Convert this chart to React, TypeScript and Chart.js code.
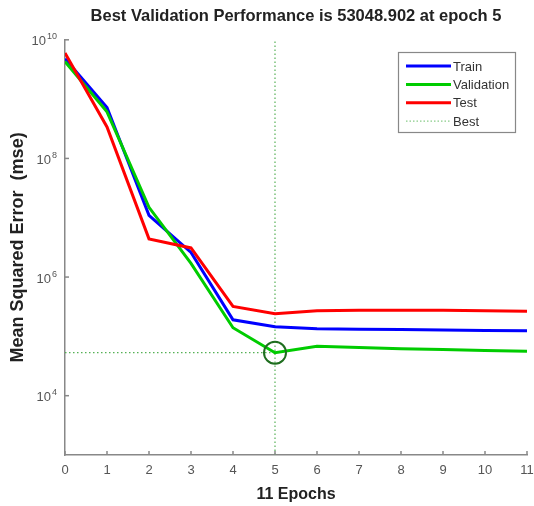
import React, { useEffect, useRef } from "react";
import { Chart, registerables } from "chart.js";

Chart.register(...registerables);

const epochs = [0, 1, 2, 3, 4, 5, 6, 7, 8, 9, 10, 11];
const trainPerf = [4.8e9, 7.2e8, 1.1e7, 2.6e6, 1.9e5, 1.45e5, 1.35e5, 1.32e5, 1.3e5, 1.28e5, 1.26e5, 1.24e5];
const valPerf = [4.3e9, 6.1e8, 1.5e7, 1.7e6, 1.4e5, 53048.902, 6.8e4, 6.5e4, 6.2e4, 6.0e4, 5.8e4, 5.6e4];
const testPerf = [6.0e9, 3.4e8, 4.4e6, 3.1e6, 3.2e5, 2.4e5, 2.7e5, 2.75e5, 2.75e5, 2.75e5, 2.7e5, 2.65e5];
const bestEpoch = 5;
const bestPerf = 53048.902;
const yTickValues = [1e4, 1e6, 1e8, 1e10];
const yTickBases = ["10", "10", "10", "10"];
const yTickExponents = ["4", "6", "8", "10"];
const legendLabels = ["Train", "Validation", "Test", "Best"];

const FONT = "'Liberation Sans', Arial, sans-serif";

const innerTicksPlugin = {
  id: "innerTicks",
  afterDraw(chart: any) {
    const { ctx, scales } = chart;
    const x = scales.x;
    const y = scales.y;
    ctx.save();
    ctx.strokeStyle = "#888";
    ctx.lineWidth = 1.5;
    x.ticks.forEach((t: any) => {
      const px = x.getPixelForValue(t.value);
      ctx.beginPath();
      ctx.moveTo(px, y.bottom);
      ctx.lineTo(px, y.bottom - 4);
      ctx.stroke();
    });
    y.ticks.forEach((t: any) => {
      const py = y.getPixelForValue(t.value);
      ctx.beginPath();
      ctx.moveTo(x.left, py);
      ctx.lineTo(x.left + 4, py);
      ctx.stroke();
    });
    // y tick labels with superscript exponents
    ctx.fillStyle = "#555";
    ctx.textBaseline = "middle";
    y.ticks.forEach((t: any) => {
      const i = yTickValues.indexOf(t.value);
      if (i < 0) return;
      const py = y.getPixelForValue(t.value);
      const right = x.left - 8;
      ctx.font = `9px ${FONT}`;
      ctx.textAlign = "right";
      const ew = ctx.measureText(yTickExponents[i]).width;
      ctx.fillText(yTickExponents[i], right, py - 3);
      ctx.font = `13px ${FONT}`;
      ctx.fillText(yTickBases[i], right - ew - 1, py + 2);
    });
    ctx.restore();
  },
};

const legendPlugin = {
  id: "boxLegend",
  afterDraw(chart: any) {
    const { ctx } = chart;
    const ds = chart.data.datasets;
    const bx = 398.5, by = 52.5, bw = 117, bh = 80;
    ctx.save();
    ctx.fillStyle = "#fff";
    ctx.fillRect(bx, by, bw, bh);
    ctx.strokeStyle = "#888";
    ctx.lineWidth = 1.2;
    ctx.strokeRect(bx, by, bw, bh);
    ctx.font = `13px ${FONT}`;
    ctx.textBaseline = "middle";
    ctx.textAlign = "left";
    for (let i = 0; i < 4; i++) {
      const d = ds[i];
      const ry = 66 + i * 18.4;
      ctx.beginPath();
      ctx.strokeStyle = i === 3 ? "#88cc88" : d.borderColor;
      ctx.lineWidth = i === 3 ? 1.2 : 3;
      ctx.setLineDash(i === 3 ? [1.5, 2] : []);
      ctx.moveTo(406, ry);
      ctx.lineTo(451, ry);
      ctx.stroke();
      ctx.setLineDash([]);
      ctx.fillStyle = "#333";
      ctx.fillText(legendLabels[i], 453, ry + 1);
    }
    ctx.restore();
  },
};

export default function App() {
  const ref = useRef<HTMLCanvasElement | null>(null);
  useEffect(() => {
    document.body.style.margin = "0";
    const canvas = ref.current;
    if (!canvas) return;
    const pts = (arr: number[]) => arr.map((v, i) => ({ x: epochs[i], y: v }));
    const chart = new Chart(canvas, {
      type: "line",
      data: {
        datasets: [
          {
            label: "Train",
            data: pts(trainPerf),
            borderColor: "#0000ff",
            borderWidth: 3,
            pointRadius: 0,
            tension: 0,
            order: 3,
          },
          {
            label: "Validation",
            data: pts(valPerf),
            borderColor: "#00cc00",
            borderWidth: 3,
            pointRadius: 0,
            tension: 0,
            order: 2,
          },
          {
            label: "Test",
            data: pts(testPerf),
            borderColor: "#ff0000",
            borderWidth: 3,
            pointRadius: 0,
            tension: 0,
            order: 1,
          },
          {
            label: "Best",
            data: [
              { x: bestEpoch, y: 1e3 },
              { x: bestEpoch, y: 1e10 },
            ],
            borderColor: "#55b055",
            borderWidth: 1.2,
            borderDash: [1.5, 2.5],
            pointRadius: 0,
            order: 5,
          },
          {
            label: "BestH",
            data: [
              { x: 0, y: bestPerf },
              { x: bestEpoch, y: bestPerf },
            ],
            borderColor: "#55b055",
            borderWidth: 1.2,
            borderDash: [1.5, 2.5],
            pointRadius: 0,
            order: 5,
          },
          {
            label: "BestCircle",
            data: [{ x: bestEpoch, y: bestPerf }],
            showLine: false,
            borderColor: "#1f6e1f",
            backgroundColor: "rgba(0,0,0,0)",
            pointRadius: 11,
            pointBorderWidth: 2,
            pointStyle: "circle",
            order: 0,
          },
        ],
      },
      options: {
        animation: false,
        responsive: false,
        layout: { autoPadding: false, padding: { top: 0, right: 7, left: 0, bottom: 0 } },
        plugins: {
          legend: { display: false },
          tooltip: { enabled: false },
          title: {
            display: true,
            text: "Best Validation Performance is 53048.902 at epoch 5",
            fullSize: false,
            color: "#222",
            font: { family: FONT, size: 16.5, weight: "bold" },
            padding: { top: 7, bottom: 13 },
          },
        },
        scales: {
          x: {
            type: "linear",
            min: 0,
            max: 11,
            grid: { display: false, drawTicks: false },
            border: { display: true, color: "#888", width: 1.5 },
            ticks: {
              stepSize: 1,
              color: "#555",
              padding: 8,
              font: { family: FONT, size: 13 },
              maxRotation: 0,
            },
            title: {
              display: true,
              text: "11 Epochs",
              color: "#222",
              font: { family: FONT, size: 16, weight: "bold" },
              padding: { top: 0, bottom: 2 },
            },
            afterFit: (s: any) => {
              s.height = 51;
              s.paddingLeft = 0;
              s.paddingRight = 0;
            },
          },
          y: {
            type: "logarithmic",
            min: 1e3,
            max: 1e10,
            grid: { display: false, drawTicks: false },
            border: { display: true, color: "#888", width: 1.5 },
            afterBuildTicks: (s: any) => {
              s.ticks = yTickValues.map((v) => ({ value: v }));
            },
            ticks: {
              display: false,
            },
            title: {
              display: true,
              text: "Mean Squared Error  (mse)",
              color: "#222",
              font: { family: FONT, size: 18, weight: "bold" },
              padding: { top: 7, bottom: 0 },
            },
            afterFit: (s: any) => {
              s.width = 65;
              s.paddingTop = 0;
              s.paddingBottom = 0;
            },
          },
        },
      },
      plugins: [innerTicksPlugin, legendPlugin],
    } as any);
    return () => chart.destroy();
  }, []);
  return (
    <div style={{ width: 534, height: 506, background: "#fff" }}>
      <canvas ref={ref} width={534} height={506} />
    </div>
  );
}
